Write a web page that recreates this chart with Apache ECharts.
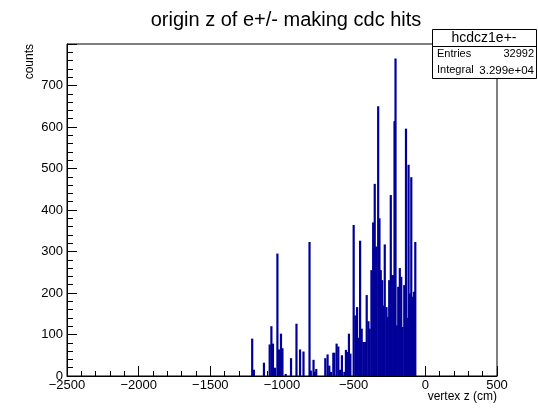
<!DOCTYPE html>
<html>
<head>
<meta charset="utf-8">
<script src="https://cdn.jsdelivr.net/npm/echarts@6/dist/echarts.min.js"></script>
<style>html,body{margin:0;padding:0;background:#fff}#c{width:538px;height:408px}</style>
</head>
<body>
<div id="c"></div>
<script>
var titleText = 'origin z of e+/- making cdc hits';
var xTitle = 'vertex z (cm)';
var yTitle = 'counts';
var statsName = 'hcdcz1e+-';
var statsEntries = '32992';
var statsIntegral = '3.299e+04';

// bin centres (cm) and counts
var binZ = [-1208,-1196,-1126,-1086,-1074,-1063,-1049,-1032,-1021,-1007,-997,-974,-937,-899,-874,-850,-808,-799,-780,-771,-761,
  -698,-682,-670,-659,-642,-635,-619,-607,-596,-582,-565,-554,-542,-533,-523,
  -500,-488,-476,-467,-455,-444,-432,-420,-409,-397,-388,-376,-364,-353,-343,-329,-320,-311,-301,-292,-283,-271,-262,-252,-241,-234,-224,-215,-208,-199,-189,-178,-168,-159,-147,-135,-126,-117,-108,-98,-89,-79,-70];
var binCounts = [90,15,32,76,120,78,20,295,64,102,67,5,43,126,64,59,323,13,39,10,17,
  43,52,25,10,56,56,78,71,15,50,10,63,58,102,54,
  364,146,166,92,326,114,82,82,195,132,114,255,370,463,312,650,380,255,231,170,317,166,142,231,436,243,243,614,765,122,215,260,239,118,219,596,140,509,199,479,191,203,323];

var data = binZ.map(function(z,i){return [z, binCounts[i]];});

var chart = echarts.init(document.getElementById('c'), null, {renderer:'canvas'});
var font = 'Liberation Sans, Arial, Helvetica, sans-serif';
chart.setOption({
  animation:false,
  backgroundColor:'#fff',
  title:{text:titleText, left:281, top:5, textAlign:'center',
    textStyle:{fontFamily:font, fontSize:20, fontWeight:'normal', color:'#000'}},
  grid:{left:67, right:41, top:44, bottom:32, show:true, borderColor:'#000', borderWidth:1, backgroundColor:'transparent'},
  xAxis:{type:'value', min:-2500, max:500, interval:500,
    axisLine:{onZero:false, lineStyle:{color:'#000', width:1}},
    axisTick:{inside:true, length:10, lineStyle:{color:'#000'}},
    minorTick:{show:true, splitNumber:5, length:5, lineStyle:{color:'#000'}},
    splitLine:{show:false},
    axisLabel:{color:'#000', fontFamily:font, fontSize:13, margin:3,
      formatter:function(v){return String(v).replace('-','\u2212');}}},
  yAxis:{type:'value', min:0, max:800, interval:100,
    axisLine:{show:true, onZero:false, lineStyle:{color:'#000', width:1}},
    axisTick:{inside:true, length:10, lineStyle:{color:'#000'}},
    minorTick:{show:true, splitNumber:5, length:6, lineStyle:{color:'#000'}},
    splitLine:{show:false},
    axisLabel:{color:'#000', fontFamily:font, fontSize:13, margin:4, showMaxLabel:false}},
  series:[{type:'bar', data:data, barWidth:2.2, itemStyle:{color:'#000099'}, large:false}],
  graphic:[
    {type:'text', x:30, y:44, rotation:Math.PI/2, style:{text:yTitle, align:'right', verticalAlign:'middle', fontFamily:font, fontSize:12, fill:'#000'}},
    {type:'text', x:497, y:397, style:{text:xTitle, align:'right', verticalAlign:'middle', fontFamily:font, fontSize:12, fill:'#000'}},
    {type:'rect', shape:{x:432.5, y:29.5, width:104, height:49}, style:{fill:'#fff', stroke:'#000', lineWidth:1}, z:100},
    {type:'line', shape:{x1:432.5, y1:46.5, x2:536.5, y2:46.5}, style:{stroke:'#000', lineWidth:1}, z:101},
    {type:'text', x:484, y:38, style:{text:statsName, align:'center', verticalAlign:'middle', fontFamily:font, fontSize:14, fill:'#000'}, z:101},
    {type:'text', x:437, y:54, style:{text:'Entries', align:'left', verticalAlign:'middle', fontFamily:font, fontSize:11, fill:'#000'}, z:101},
    {type:'text', x:534, y:54, style:{text:statsEntries, align:'right', verticalAlign:'middle', fontFamily:font, fontSize:11, fill:'#000'}, z:101},
    {type:'text', x:437, y:70, style:{text:'Integral', align:'left', verticalAlign:'middle', fontFamily:font, fontSize:11, fill:'#000'}, z:101},
    {type:'text', x:534, y:71, style:{text:statsIntegral, align:'right', verticalAlign:'middle', fontFamily:font, fontSize:11.5, fill:'#000'}, z:101}
  ]
});
</script>
</body>
</html>
